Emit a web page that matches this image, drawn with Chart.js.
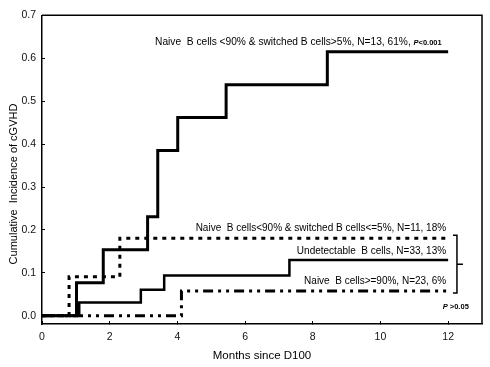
<!DOCTYPE html>
<html>
<head>
<meta charset="utf-8">
<script src="https://cdn.jsdelivr.net/npm/chart.js@4.4.1/dist/chart.umd.min.js"></script>
<style>
  html, body { margin: 0; padding: 0; background: #fff; }
  #wrap { width: 490px; height: 367px; }
</style>
</head>
<body>
<div id="wrap"><canvas id="myChart" width="490" height="367"></canvas></div>
<script>
// step points (months since D100, cumulative incidence)
const switchedHighX = [0, 1.02, 1.81, 3.12, 3.42, 4.01, 5.44, 8.43, 12];
const switchedHighY = [0, 0.077, 0.154, 0.231, 0.385, 0.462, 0.538, 0.615, 0.615];

const switchedLowX = [0, 0.80, 2.30, 12];
const switchedLowY = [0, 0.091, 0.181, 0.181];

const undetectX = [0, 1.10, 2.92, 3.61, 7.31, 12];
const undetectY = [0, 0.031, 0.061, 0.094, 0.130, 0.130];

const naiveHighX = [0, 4.12, 12];
const naiveHighY = [0, 0.058, 0.058];

const xTicks = [0, 2, 4, 6, 8, 10, 12];
const yTicks = [0, 0.1, 0.2, 0.3, 0.4, 0.5, 0.6, 0.7];

const FONT = "'Liberation Sans', Arial, sans-serif";

function toPoints(xs, ys){
    let pts = [];
    for(let i = 0; i < xs.length; i++){
        pts.push({x: xs[i], y: ys[i]});
    }
    return pts;
}

// text, frame and bracket drawn on top of the chart
const annotations = {
    id: 'annotations',
    afterDraw(chart){
        const ctx = chart.ctx;
        const xs = chart.scales.x;
        const ys = chart.scales.y;
        const area = chart.chartArea;
        ctx.save();

        // box round the plot
        ctx.strokeStyle = '#000';
        ctx.lineWidth = 1.5;
        ctx.beginPath();
        ctx.moveTo(area.left, area.top);
        ctx.lineTo(area.right, area.top);
        ctx.lineTo(area.right, area.bottom);
        ctx.stroke();

        ctx.fillStyle = '#000';
        ctx.textBaseline = 'middle';

        // top label
        ctx.font = '10.2px ' + FONT;
        ctx.textAlign = 'left';
        let t = 'Naive  B cells <90% & switched B cells>5%, N=13, 61%, ';
        let lx = xs.getPixelForValue(3.34);
        let ly = ys.getPixelForValue(0.637);
        ctx.fillText(t, lx, ly);
        let w = ctx.measureText(t).width;
        ctx.font = 'italic bold 7.5px ' + FONT;
        ctx.fillText('P', lx + w, ly + 1);
        let wp = ctx.measureText('P').width;
        ctx.font = 'bold 7.5px ' + FONT;
        ctx.fillText('<0.001', lx + w + wp, ly + 1);

        // right-hand labels
        ctx.font = '10px ' + FONT;
        ctx.textAlign = 'right';
        const rx = xs.getPixelForValue(11.94);
        ctx.fillText('Naive  B cells<90% & switched B cells<=5%, N=11, 18%', rx, ys.getPixelForValue(0.2045));
        ctx.fillText('Undetectable  B cells, N=33, 13%', rx, ys.getPixelForValue(0.1494));
        ctx.fillText('Naive  B cells>=90%, N=23, 6%', rx, ys.getPixelForValue(0.0795));

        // P > 0.05
        let px = xs.getPixelForValue(12.61);
        let py = ys.getPixelForValue(0.02);
        ctx.font = 'bold 7.5px ' + FONT;
        let w2 = ctx.measureText('>0.05').width;
        ctx.fillText('>0.05', px, py);
        ctx.font = 'italic bold 7.5px ' + FONT;
        ctx.fillText('P ', px - w2, py);

        // bracket
        const bx = xs.getPixelForValue(12.26);
        const bTop = ys.getPixelForValue(0.188);
        const bBot = ys.getPixelForValue(0.053);
        const bMid = ys.getPixelForValue(0.12);
        ctx.lineWidth = 1.5;
        ctx.beginPath();
        ctx.moveTo(bx - 4, bTop);
        ctx.lineTo(bx, bTop);
        ctx.lineTo(bx, bBot);
        ctx.lineTo(bx - 4, bBot);
        ctx.moveTo(bx, bMid);
        ctx.lineTo(bx + 6, bMid);
        ctx.stroke();

        // axis titles
        ctx.font = '11.5px ' + FONT;
        ctx.textAlign = 'center';
        ctx.fillText('Months since D100', (area.left + area.right) / 2, 356);
        ctx.font = '11px ' + FONT;
        ctx.translate(14, 184);
        ctx.rotate(-Math.PI / 2);
        ctx.fillText('Cumulative  Incidence of cGVHD', 0, 0);

        ctx.restore();
    }
};

function createStepChart(){
    const ctx = document.getElementById('myChart');
    new Chart(ctx, {
        type: 'line',
        data: {
            datasets: [
                {
                    label: 'Naive B cells <90% & switched B cells>5%',
                    data: toPoints(switchedHighX, switchedHighY),
                    borderColor: '#000',
                    borderWidth: 3
                },
                {
                    label: 'Naive B cells<90% & switched B cells<=5%',
                    data: toPoints(switchedLowX, switchedLowY),
                    borderColor: '#000',
                    borderWidth: 3,
                    borderDash: [4, 5]
                },
                {
                    label: 'Undetectable B cells',
                    data: toPoints(undetectX, undetectY),
                    borderColor: '#000',
                    borderWidth: 2.5
                },
                {
                    label: 'Naive B cells>=90%',
                    data: toPoints(naiveHighX, naiveHighY),
                    borderColor: '#000',
                    borderWidth: 3,
                    borderDash: [10, 5, 3, 5, 3, 5]
                }
            ]
        },
        options: {
            responsive: false,
            animation: false,
            devicePixelRatio: 1,
            elements: {
                point: { radius: 0 },
                line: { stepped: 'before', fill: false, borderCapStyle: 'butt', borderJoinStyle: 'miter' }
            },
            layout: { padding: { top: 11, right: 8, left: 0, bottom: 0 } },
            plugins: {
                legend: { display: false },
                tooltip: { enabled: false }
            },
            scales: {
                x: {
                    type: 'linear',
                    min: 0,
                    max: 13,
                    afterBuildTicks: s => { s.ticks = xTicks.map(v => ({value: v})); },
                    afterFit: s => { s.height = 43; },
                    border: { display: true, color: '#000', width: 1.5 },
                    grid: { display: true, drawOnChartArea: false, drawTicks: true, tickLength: -3, color: '#000' },
                    ticks: {
                        padding: 10,
                        color: '#111',
                        font: { family: FONT, size: 10.5 },
                        maxRotation: 0,
                        callback: v => String(v)
                    }
                },
                y: {
                    type: 'linear',
                    min: -0.019,
                    max: 0.7,
                    afterBuildTicks: s => { s.ticks = yTicks.map(v => ({value: v})); },
                    afterFit: s => { s.width = 42; },
                    border: { display: true, color: '#000', width: 1.5 },
                    grid: { display: true, drawOnChartArea: false, drawTicks: true, tickLength: -3, color: '#000' },
                    ticks: {
                        padding: 9,
                        color: '#111',
                        font: { family: FONT, size: 10.5 },
                        callback: v => v.toFixed(1)
                    }
                }
            }
        },
        plugins: [annotations]
    });
}

createStepChart();
</script>
</body>
</html>
